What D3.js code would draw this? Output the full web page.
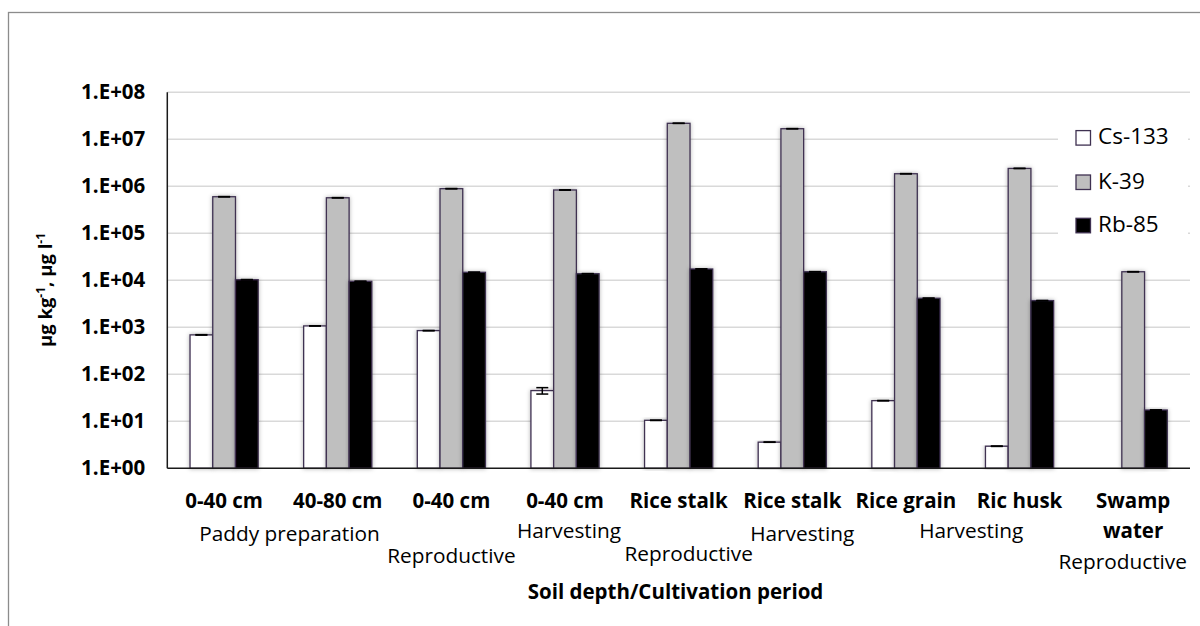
<!DOCTYPE html>
<html>
<head>
<meta charset="utf-8">
<script src="https://cdn.jsdelivr.net/npm/d3@7"></script>
<style>
  html, body { margin: 0; padding: 0; background: #fff; }
  svg { display: block; font-family: "Open Sans", sans-serif; }
</style>
</head>
<body>
<svg id="chart" width="1200" height="626"></svg>
<script>
// Data
const categories = ["0-40 cm", "40-80 cm", "0-40 cm", "0-40 cm", "Rice stalk", "Rice stalk", "Rice grain", "Ric husk", "Swamp|water"];
const periods = ["Paddy preparation", "Reproductive", "Harvesting", "Reproductive", "Harvesting", "Harvesting", "Reproductive"];
const series = ["Cs-133", "K-39", "Rb-85"];
const cs133 = [690, 1070, 850, 45, 10.5, 3.6, 27.5, 2.95, null];
const k39 = [600000, 570000, 890000, 835000, 21900000, 16800000, 1850000, 2400000, 15200];
const rb85 = [10300, 9500, 14800, 13800, 17400, 15200, 4150, 3700, 17.4];
const cs133Err = [8, 10, 8, 7, 0.1, 0.03, 0.25, 0.03, null];
const k39Err = [5000, 5000, 8000, 8000, 150000, 120000, 15000, 20000, 120];
const rb85Err = [90, 80, 120, 120, 150, 120, 35, 30, 0.15];
const yTicks = [1, 10, 100, 1e3, 1e4, 1e5, 1e6, 1e7, 1e8];

const values = [cs133, k39, rb85];
const errors = [cs133Err, k39Err, rb85Err];
const fills = ["#ffffff", "#bfbfbf", "#000000"];
const barStroke = "#3f3151";

// Layout
const m = { l: 167.3, r: 1190, t: 92.3, b: 468.3 };
const svg = d3.select("#chart");

const defs = svg.append("defs");
defs.append("filter").attr("id", "shadow")
  .attr("x", "-30%").attr("y", "-5%").attr("width", "160%").attr("height", "110%")
  .append("feDropShadow")
  .attr("dx", 0).attr("dy", 0).attr("stdDeviation", 2)
  .attr("flood-color", "#000").attr("flood-opacity", 0.3);

// Outer frame (runs off the right and bottom edges)
svg.append("rect")
  .attr("x", 8.5).attr("y", 12.5).attr("width", 1250).attr("height", 700)
  .attr("fill", "none").attr("stroke", "#8c8c8c").attr("stroke-width", 1.3);

const x0 = d3.scaleBand()
  .domain(d3.range(categories.length))
  .range([m.l, m.r])
  .paddingInner(0.4).paddingOuter(0.2);
const x1 = d3.scaleBand()
  .domain(d3.range(series.length))
  .range([0, x0.bandwidth()]);
const y = d3.scaleLog().domain([1, 1e8]).range([m.b, m.t]);

// Gridlines
svg.append("g")
  .selectAll("line")
  .data(yTicks.slice(1))
  .join("line")
  .attr("x1", m.l).attr("x2", m.r)
  .attr("y1", d => y(d)).attr("y2", d => y(d))
  .attr("stroke", "#d9d9d9").attr("stroke-width", 1.5);

// Y tick labels
const fmt = d => "1.E+" + String(Math.round(Math.log10(d))).padStart(2, "0");
svg.append("g")
  .attr("transform", `translate(${m.l},0)`)
  .call(d3.axisLeft(y).tickValues(yTicks).tickFormat(fmt).tickSize(0).tickPadding(22))
  .call(g => g.select(".domain").remove())
  .call(g => g.selectAll("text")
    .attr("font-family", "Open Sans")
    .attr("font-weight", "bold")
    .attr("font-size", 20.5)
    .attr("fill", "#000"));

// Bars
const groups = svg.append("g")
  .selectAll("g")
  .data(categories.map((c, i) => i))
  .join("g")
  .attr("transform", i => `translate(${x0(i)},0)`);

const barData = i => series.map((s, k) => ({ k, v: values[k][i], e: errors[k][i] }))
  .filter(d => d.v != null);

groups.selectAll("rect")
  .data(barData)
  .join("rect")
  .attr("x", d => x1(d.k))
  .attr("width", x1.bandwidth())
  .attr("y", d => y(d.v))
  .attr("height", d => y(1) - y(d.v))
  .attr("fill", d => fills[d.k])
  .attr("stroke", barStroke)
  .attr("stroke-width", 1.3)
  .attr("filter", "url(#shadow)");

// Error bars
const eb = groups.selectAll("g.err")
  .data(barData)
  .join("g")
  .attr("class", "err")
  .attr("stroke", "#000").attr("stroke-width", 1.5);
eb.append("line")
  .attr("x1", d => x1(d.k) + x1.bandwidth() / 2).attr("x2", d => x1(d.k) + x1.bandwidth() / 2)
  .attr("y1", d => y(d.v + d.e)).attr("y2", d => y(Math.max(d.v - d.e, 1)));
eb.selectAll("line.cap")
  .data(d => [d.v + d.e, d.v - d.e].map(v => ({ k: d.k, v })))
  .join("line")
  .attr("class", "cap")
  .attr("x1", d => x1(d.k) + x1.bandwidth() / 2 - 6).attr("x2", d => x1(d.k) + x1.bandwidth() / 2 + 6)
  .attr("y1", d => y(d.v)).attr("y2", d => y(d.v));

// Axis lines
svg.append("line")
  .attr("x1", m.l).attr("x2", m.l).attr("y1", m.t).attr("y2", m.b)
  .attr("stroke", "#1a1a1a").attr("stroke-width", 1.5);
svg.append("line")
  .attr("x1", m.l).attr("x2", m.r).attr("y1", m.b).attr("y2", m.b)
  .attr("stroke", "#1a1a1a").attr("stroke-width", 1.5);

// Category labels
const cx = i => x0(i) + x0.bandwidth() / 2;
const catText = svg.append("g")
  .attr("font-weight", "bold").attr("font-size", 20.5).attr("text-anchor", "middle");
categories.forEach((c, i) => {
  c.split("|").forEach((line, j) => {
    catText.append("text")
      .attr("x", cx(i)).attr("y", 507.5 + j * 30.5)
      .text(line);
  });
});

// Period labels: [anchor category, dx, baseline]
const periodPos = [[0.5, 8.5, 541], [2, 0, 563], [3, 4, 538], [4, 10, 561], [5, 10, 541], [6.5, 8.5, 538], [8, -10.5, 569]];
const perText = svg.append("g")
  .attr("font-size", 20.8).attr("text-anchor", "middle");
periods.forEach((p, i) => {
  const [c, dx, by] = periodPos[i];
  const px = x0(Math.floor(c)) + x0.bandwidth() / 2 + (c % 1) * x0.step() + dx;
  perText.append("text").attr("x", px).attr("y", by).text(p);
});

// Axis titles
svg.append("text")
  .attr("x", 675.5).attr("y", 599)
  .attr("text-anchor", "middle")
  .attr("font-weight", "bold").attr("font-size", 20.5)
  .text("Soil depth/Cultivation period");

const yt = svg.append("text")
  .attr("transform", "translate(52,290) rotate(-90)")
  .attr("text-anchor", "middle")
  .attr("font-weight", "bold").attr("font-size", 18.5);
yt.append("tspan").text("µg kg");
yt.append("tspan").attr("font-size", 12).attr("dy", -7).text("-1");
yt.append("tspan").attr("dy", 7).text(", µg l");
yt.append("tspan").attr("font-size", 12).attr("dy", -7).text("-1");

// Legend
const lg = svg.append("g");
lg.append("rect").attr("x", 1058).attr("y", 112).attr("width", 130).attr("height", 138).attr("fill", "#fff");
const ly = [137.8, 182.2, 225.5];
series.forEach((s, k) => {
  lg.append("rect")
    .attr("x", 1076).attr("y", ly[k] - 7.2).attr("width", 14.5).attr("height", 14.5)
    .attr("fill", fills[k]).attr("stroke", barStroke).attr("stroke-width", 1.3);
  lg.append("text")
    .attr("x", 1098).attr("y", ly[k] + 6.5)
    .attr("font-size", 22.5)
    .text(s);
});
</script>
</body>
</html>
